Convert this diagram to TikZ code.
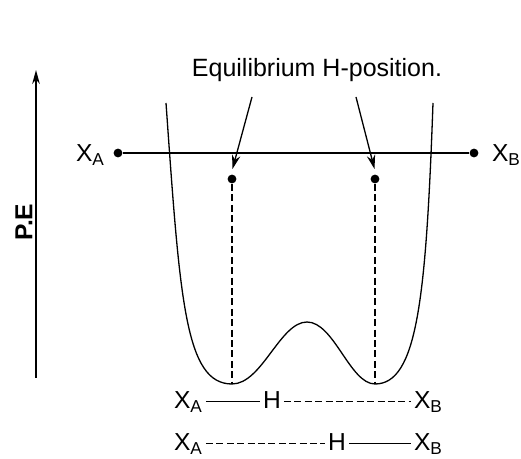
\documentclass[tikz,border=0pt]{standalone}
\usepackage{fontspec}
\setmainfont{Liberation Sans}
\usetikzlibrary{arrows.meta}
\begin{document}
\begin{tikzpicture}[x=0.5pt,y=-0.5pt,line width=0.65pt,
  lab/.style={font=\fontsize{12.3}{14}\selectfont, inner sep=1.2pt, text height=1em, text depth=0.25em},
  dotc/.style={circle,fill=black,inner sep=0pt,minimum size=4.4pt},
  dsh/.style={line width=0.8pt,dash pattern=on 3.5pt off 1.7pt},
  pointer/.style={-{Stealth[length=7pt,width=4.2pt]}}]
\useasboundingbox (0,0) rectangle (521,459);
% axis
\coordinate (axb) at (36,378);
\coordinate (axt) at (36,70);
\draw[line width=0.8pt,-{Stealth[length=7pt,width=3.8pt]}] (axb) -- (axt);
\node[rotate=90,font=\fontsize{12.3}{14}\selectfont\bfseries] (pe) at (24,222) {P.E};
% title
\node[font=\fontsize{12.5}{15}\selectfont] (title) at (317,70) {Equilibrium H-position.};
% top line
\node[dotc] (da) at (118,153) {};
\node[dotc] (db) at (474,153) {};
\draw (da) -- (db);
\node[lab,anchor=base east] (xa) at (108,162) {X\textsubscript{A}};
\node[lab,anchor=base west] (xb) at (489,162) {X\textsubscript{B}};
% potential curve
\draw (166,103) .. controls (180,300) and (185,384) .. (232,384)
  .. controls (262,384) and (280,322) .. (307,322)
  .. controls (334,322) and (350,384) .. (375,384)
  .. controls (417,384) and (426,300) .. (433,103);
% equilibrium dots
\node[dotc] (e1) at (232,179) {};
\node[dotc] (e2) at (375,179) {};
\coordinate (m1) at (232,384);
\coordinate (m2) at (375,384);
\draw[dsh] (e1) -- (m1);
\draw[dsh] (e2) -- (m2);
% pointers
\coordinate (p1) at (252,97);
\coordinate (p2) at (356,97);
\draw[pointer] (p1) -- (232.5,169);
\draw[pointer] (p2) -- (374.5,169);
% bottom row 1
\node[lab,anchor=base west] (xa1) at (171,409) {X\textsubscript{A}};
\node[lab,anchor=base] (h1) at (272,409) {H};
\node[lab,anchor=base west] (xb1) at (411,409) {X\textsubscript{B}};
\draw (xa1.east) -- (h1.west);
\draw[dsh,line width=0.65pt] (h1.east) -- (xb1.west);
% bottom row 2
\node[lab,anchor=base west] (xa2) at (171,451) {X\textsubscript{A}};
\node[lab,anchor=base] (h2) at (337,451) {H};
\node[lab,anchor=base west] (xb2) at (411,451) {X\textsubscript{B}};
\draw[dsh,line width=0.65pt] (xa2.east) -- (h2.west);
\draw (h2.east) -- (xb2.west);
\end{tikzpicture}
\end{document}
